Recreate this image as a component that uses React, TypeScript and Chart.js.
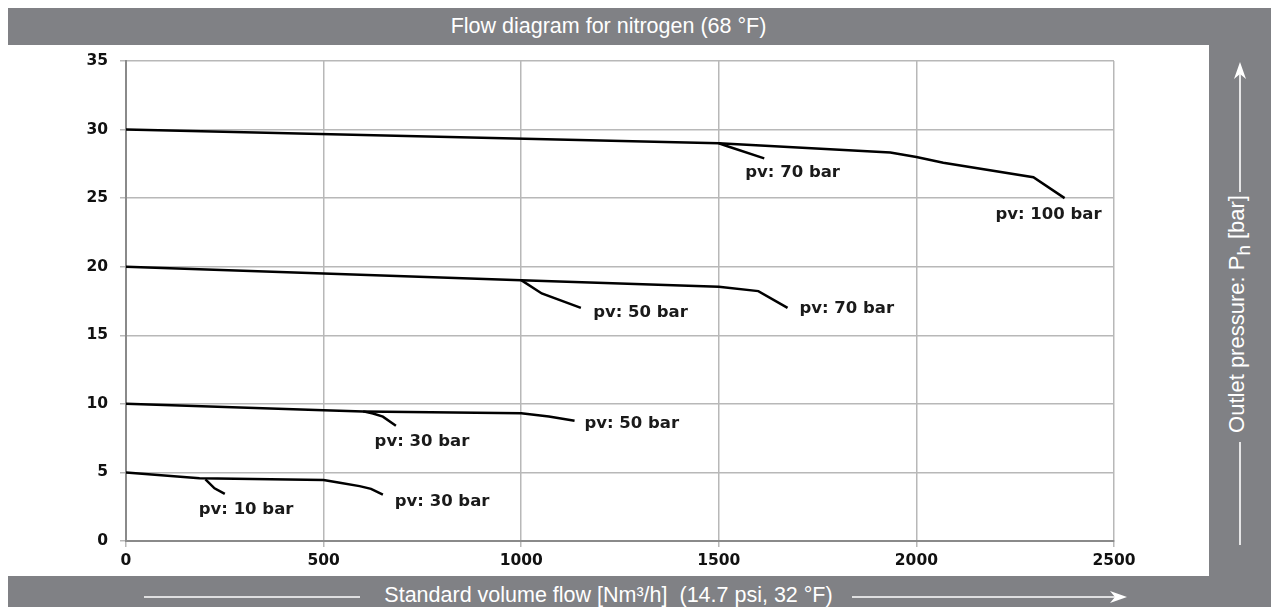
import React, { useEffect, useRef } from "react";
import { Chart, registerables } from "chart.js";

Chart.register(...registerables);

// ---- Data ----
const xTickValues = [0, 500, 1000, 1500, 2000, 2500];
const yTickValues = [0, 5, 10, 15, 20, 25, 30, 35];

// outlet 30 bar, inlet 100 bar
const c30_100X = [0, 1500, 1934, 2000, 2068, 2296, 2375];
const c30_100Y = [30, 29, 28.33, 28.0, 27.58, 26.52, 25.0];
// outlet 30 bar, inlet 70 bar branch
const c30_70X = [1500, 1520, 1615];
const c30_70Y = [29, 28.8, 27.9];
// outlet 20 bar, inlet 70 bar
const c20_70X = [0, 1000, 1500, 1600, 1674];
const c20_70Y = [20, 19.02, 18.54, 18.22, 17.0];
// outlet 20 bar, inlet 50 bar branch
const c20_50X = [1000, 1052, 1151];
const c20_50Y = [19.02, 18.05, 17.0];
// outlet 10 bar, inlet 50 bar
const c10_50X = [0, 500, 600, 1000, 1070, 1135];
const c10_50Y = [10, 9.53, 9.45, 9.31, 9.08, 8.77];
// outlet 10 bar, inlet 30 bar branch
const c10_30X = [600, 625, 650, 683];
const c10_30Y = [9.45, 9.3, 9.07, 8.41];
// outlet 5 bar, inlet 30 bar
const c5_30X = [0, 186, 500, 541, 591, 620, 650];
const c5_30Y = [5, 4.57, 4.45, 4.25, 4.0, 3.8, 3.38];
// outlet 5 bar, inlet 10 bar branch
const c5_10X = [201, 224, 250];
const c5_10Y = [4.5, 3.84, 3.43];

const curveXs = [c30_100X, c30_70X, c20_70X, c20_50X, c10_50X, c10_30X, c5_30X, c5_10X];
const curveYs = [c30_100Y, c30_70Y, c20_70Y, c20_50Y, c10_50Y, c10_30Y, c5_30Y, c5_10Y];

const labelTexts = [
  "pv: 70 bar",
  "pv: 100 bar",
  "pv: 50 bar",
  "pv: 70 bar",
  "pv: 30 bar",
  "pv: 50 bar",
  "pv: 10 bar",
  "pv: 30 bar",
];
const labelX = [1567, 2200, 1182, 1704, 629, 1160, 184, 680];
const labelY = [26.84, 23.78, 16.65, 16.92, 7.22, 8.55, 2.26, 2.88];

const titleText = "Flow diagram for nitrogen (68 °F)";
const xTitleText = "Standard volume flow [Nm³/h]  (14.7 psi, 32 °F)";

const GREY = "#808185";

const labelPlugin = {
  id: "curveLabels",
  afterDatasetsDraw(chart: any) {
    const ctx = chart.ctx;
    const xs = chart.scales.x;
    const ys = chart.scales.y;
    ctx.save();
    ctx.font = 'bold 16.5px "DejaVu Sans"';
    ctx.fillStyle = "#1a1a1a";
    ctx.textAlign = "left";
    ctx.textBaseline = "middle";
    labelTexts.forEach((t, i) => {
      ctx.fillText(t, xs.getPixelForValue(labelX[i]), ys.getPixelForValue(labelY[i]));
    });
    ctx.restore();
  },
};

function FlowChart() {
  const ref = useRef<HTMLCanvasElement | null>(null);
  useEffect(() => {
    if (!ref.current) return;
    const datasets = curveXs.map((xs, i) => ({
      data: xs.map((x, j) => ({ x, y: curveYs[i][j] })),
      borderColor: "#000",
      borderWidth: 2.5,
      pointRadius: 0,
      tension: 0,
      fill: false,
      showLine: true,
    }));
    const chart = new Chart(ref.current, {
      type: "scatter",
      data: { datasets },
      options: {
        animation: false,
        responsive: false,
        devicePixelRatio: 1,
        layout: { padding: { left: 0, right: 95, top: 16, bottom: 0 } },
        plugins: { legend: { display: false }, tooltip: { enabled: false }, title: { display: false } },
        scales: {
          x: {
            type: "linear",
            min: 0,
            max: 2500,
            afterBuildTicks: (s: any) => {
              s.ticks = xTickValues.map((v) => ({ value: v }));
            },
            afterFit: (s: any) => {
              s.height = 35;
              s.paddingLeft = 0;
              s.paddingRight = 0;
            },
            ticks: {
              font: { family: "DejaVu Sans", size: 15.5, weight: "bold" },
              color: "#111",
              padding: 5,
              maxRotation: 0,
              callback: (v: any) => String(v),
            },
            grid: { color: "#b8b8b8", lineWidth: 1.5, tickLength: 6, drawTicks: true },
            border: { display: true, color: "#8a8a8a", width: 2 },
          },
          y: {
            type: "linear",
            min: 0,
            max: 35,
            afterBuildTicks: (s: any) => {
              s.ticks = yTickValues.map((v) => ({ value: v }));
            },
            afterFit: (s: any) => {
              s.width = 118;
              s.paddingTop = 0;
              s.paddingBottom = 0;
            },
            ticks: {
              font: { family: "DejaVu Sans", size: 15.5, weight: "bold" },
              color: "#111",
              padding: 12,
              callback: (v: any) => String(v),
            },
            grid: { color: "#b8b8b8", lineWidth: 1.5, tickLength: 6, drawTicks: true },
            border: { display: true, color: "#8a8a8a", width: 2 },
          },
        },
      },
      plugins: [labelPlugin],
    } as any);
    return () => chart.destroy();
  }, []);
  return <canvas ref={ref} width={1201} height={531} style={{ display: "block" }} />;
}

export default function App() {
  const bandText: React.CSSProperties = {
    position: "absolute",
    color: "#ffffff",
    fontFamily: '"Liberation Sans", Arial, sans-serif',
    fontSize: "21.5px",
    whiteSpace: "pre",
    lineHeight: 1,
  };
  return (
    <div
      style={{
        position: "absolute",
        left: 8,
        top: 8,
        width: 1263,
        height: 599,
        background: GREY,
        overflow: "hidden",
      }}
    >
      <div style={{ ...bandText, left: 0, width: 1201, top: 0, height: 37, lineHeight: "37px", textAlign: "center" }}>
        {titleText}
      </div>
      <div style={{ position: "absolute", left: 0, top: 37, width: 1201, height: 531, background: "#fff" }}>
        <FlowChart />
      </div>
      <div style={{ ...bandText, left: 0, width: 1201, top: 577, textAlign: "center" }}>{xTitleText}</div>
      <div
        style={{
          ...bandText,
          left: 1232,
          top: 306,
          transform: "translate(-50%, -50%) rotate(-90deg)",
          fontSize: "22px",
        }}
      >
        Outlet pressure: P<sub style={{ fontSize: "0.85em", verticalAlign: "-0.3em" }}>h</sub> [bar]
      </div>
      <svg width={1263} height={599} style={{ position: "absolute", left: 0, top: 0, pointerEvents: "none" }}>
        {/* right band arrow up */}
        <line x1={1232} y1={184} x2={1232} y2={64} stroke="#fff" strokeWidth={1.6} />
        <polygon points="1232,54 1238,71 1232,66 1226,71" fill="#fff" />
        <line x1={1232} y1={434} x2={1232} y2={537} stroke="#fff" strokeWidth={1.6} />
        {/* bottom band */}
        <line x1={136} y1={589} x2={352} y2={589} stroke="#fff" strokeWidth={1.6} />
        <line x1={844} y1={589} x2={1109} y2={589} stroke="#fff" strokeWidth={1.6} />
        <polygon points="1119,589 1102,583 1107,589 1102,595" fill="#fff" />
      </svg>
    </div>
  );
}
